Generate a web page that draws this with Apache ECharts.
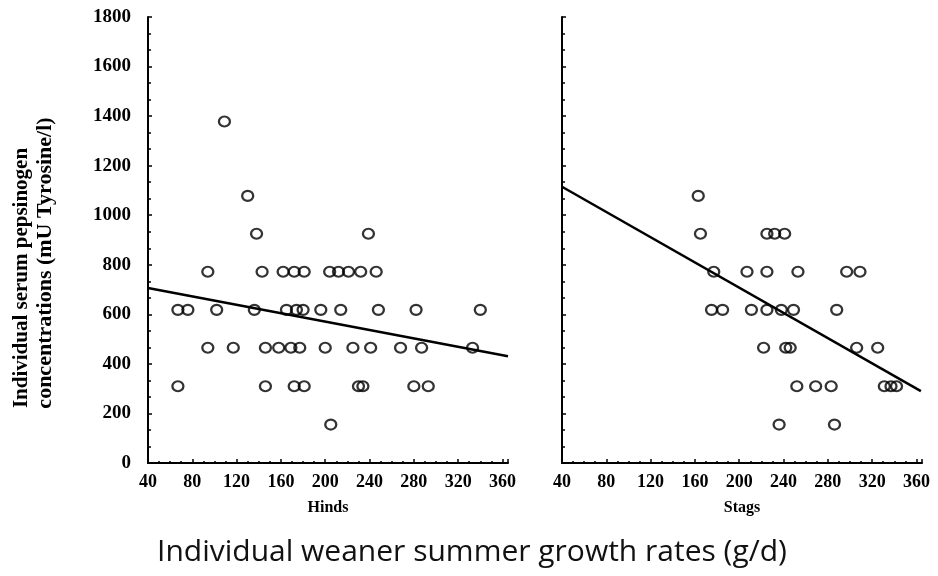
<!DOCTYPE html>
<html>
<head>
<meta charset="utf-8">
<script src="https://cdn.jsdelivr.net/npm/echarts@6/dist/echarts.min.js"></script>
<style>
  html, body { margin: 0; padding: 0; background: #fff; }
  #chart { width: 938px; height: 576px; }
</style>
</head>
<body>
<div id="chart"></div>
<script>
// Hinds: growth rate (g/d) and serum pepsinogen (mU Tyrosine/l)
const hindsGrowth = [
  109,
  130,
  138, 239,
  94, 143, 162, 172, 181, 204, 212, 221, 232, 246,
  67, 76, 102, 136, 165, 174, 180, 196, 214, 248, 282, 340,
  94, 117, 146, 158, 169, 177, 200, 225, 241, 268, 287, 333,
  67, 146, 172, 181, 230, 234, 280, 293,
  205,
];
const hindsPepsinogen = [
  1378,
  1078,
  925, 925,
  772, 772, 772, 772, 772, 772, 772, 772, 772, 772,
  618, 618, 618, 618, 618, 618, 618, 618, 618, 618, 618, 618,
  465, 465, 465, 465, 465, 465, 465, 465, 465, 465, 465, 465,
  310, 310, 310, 310, 310, 310, 310, 310,
  155,
];

// Stags
const stagsGrowth = [
  163,
  165, 225, 232, 241,
  177, 207, 225, 253, 297, 309,
  175, 185, 211, 225, 238, 249, 288,
  222, 242, 246, 306, 325,
  252, 269, 283, 331, 337, 342,
  236, 286,
];
const stagsPepsinogen = [
  1078,
  925, 925, 925, 925,
  772, 772, 772, 772, 772, 772,
  618, 618, 618, 618, 618, 618, 618,
  465, 465, 465, 465, 465,
  310, 310, 310, 310, 310, 310,
  155, 155,
];

// regression lines (end points)
const hindsFitX = [40, 365];
const hindsFitY = [706, 431];
const stagsFitX = [40, 364];
const stagsFitY = [1115, 290];

const xTicks = { min: 40, max: 365, interval: 40 };
const yTicks = { min: 0, max: 1800, interval: 200 };

function pairs(xs, ys) {
  return xs.map((x, i) => [x, ys[i]]);
}

const serif = "Liberation Serif";
const black = "#000";

function makeXAxis(gridIndex, name) {
  return {
    type: "value",
    gridIndex: gridIndex,
    min: xTicks.min,
    max: xTicks.max,
    interval: xTicks.interval,
    name: name,
    nameLocation: "middle",
    nameGap: 37,
    nameTextStyle: {
      fontFamily: serif,
      fontWeight: "bold",
      fontSize: 16,
      color: black,
    },
    axisLine: { lineStyle: { color: black, width: 2 } },
    axisTick: { inside: true, length: 4, lineStyle: { color: black, width: 1.5 } },
    minorTick: { show: true, splitNumber: 4, length: 2, lineStyle: { color: black, width: 1.5 } },
    splitLine: { show: false },
    axisLabel: {
      showMaxLabel: false,
      margin: 10,
      fontFamily: serif,
      fontWeight: "bold",
      fontSize: 18,
      color: black,
      formatter: (v) => String(v),
    },
  };
}

function makeYAxis(gridIndex, showLabels) {
  return {
    type: "value",
    gridIndex: gridIndex,
    min: yTicks.min,
    max: yTicks.max,
    interval: yTicks.interval,
    axisLine: { show: true, lineStyle: { color: black, width: 2 } },
    axisTick: { show: true, inside: true, length: 4, lineStyle: { color: black, width: 1.5 } },
    minorTick: { show: true, splitNumber: 3, length: 3, lineStyle: { color: black, width: 1.5 } },
    splitLine: { show: false },
    axisLabel: {
      show: showLabels,
      margin: 17,
      fontFamily: serif,
      fontWeight: "bold",
      fontSize: 19,
      color: black,
      formatter: (v) => String(v),
    },
  };
}

const circle = {
  type: "scatter",
  symbol: "circle",
  symbolSize: [11, 10],
  itemStyle: { color: "transparent", borderColor: black, borderWidth: 2.2 },
  emphasis: { disabled: true },
};

const fitLine = {
  type: "line",
  symbol: "none",
  lineStyle: { color: black, width: 2.5 },
  emphasis: { disabled: true },
};

const chart = echarts.init(document.getElementById("chart"));
const option = {
  animation: false,
  backgroundColor: "#fff",
  grid: [
    { left: 148, top: 17, width: 360, height: 446 },
    { left: 562, top: 17, width: 360, height: 446 },
  ],
  xAxis: [makeXAxis(0, "Hinds"), makeXAxis(1, "Stags")],
  yAxis: [makeYAxis(0, true), makeYAxis(1, false)],
  graphic: [
    {
      type: "text",
      x: 22,
      y: 278,
      rotation: Math.PI / 2,
      style: {
        text: "Individual serum pepsinogen",
        fontFamily: serif,
        fontWeight: "bold",
        fontSize: 21,
        fill: black,
        textAlign: "center",
        textVerticalAlign: "middle",
      },
    },
    {
      type: "text",
      x: 45,
      y: 263,
      rotation: Math.PI / 2,
      style: {
        text: "concentrations (mU Tyrosine/l)",
        fontFamily: serif,
        fontWeight: "bold",
        fontSize: 22,
        fill: black,
        textAlign: "center",
        textVerticalAlign: "middle",
      },
    },
    {
      type: "text",
      x: 472,
      y: 552,
      style: {
        text: "Individual weaner summer growth rates (g/d)",
        fontFamily: "Open Sans",
        fontSize: 30,
        fill: "#111",
        textAlign: "center",
        textVerticalAlign: "middle",
      },
    },
  ],
  series: [
    Object.assign({}, circle, { name: "Hinds", xAxisIndex: 0, yAxisIndex: 0, data: pairs(hindsGrowth, hindsPepsinogen) }),
    Object.assign({}, fitLine, { name: "Hinds fit", xAxisIndex: 0, yAxisIndex: 0, data: pairs(hindsFitX, hindsFitY) }),
    Object.assign({}, circle, { name: "Stags", xAxisIndex: 1, yAxisIndex: 1, data: pairs(stagsGrowth, stagsPepsinogen) }),
    Object.assign({}, fitLine, { name: "Stags fit", xAxisIndex: 1, yAxisIndex: 1, data: pairs(stagsFitX, stagsFitY) }),
  ],
};
chart.setOption(option);
</script>
</body>
</html>
